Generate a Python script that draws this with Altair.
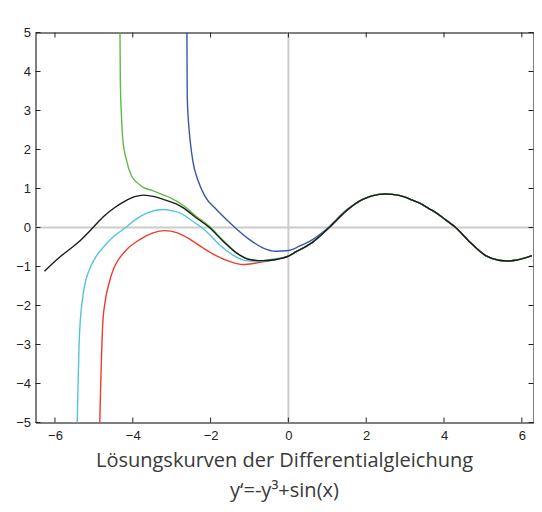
import altair as alt
import pandas as pd

# Shared tail: all solution curves merge into this one for x > ~0
tail_x = [0.20, 0.62, 1.05, 1.48, 1.91, 2.33, 2.50, 2.67, 3.00, 3.19, 3.36, 3.62, 3.79, 4.05, 4.30, 4.64, 5.07, 5.41, 5.62, 5.84, 6.26]
tail_y = [-0.62, -0.38, 0.00, 0.42, 0.72, 0.85, 0.86, 0.85, 0.78, 0.70, 0.63, 0.48, 0.38, 0.19, 0.00, -0.35, -0.72, -0.84, -0.86, -0.84, -0.72]

black_x = [-6.27, -5.83, -5.40, -5.02, -4.75, -4.48, -4.21, -3.95, -3.72, -3.44, -3.18, -2.90, -2.71, -2.37, -2.03, -1.68, -1.34, -1.00, -0.66, -0.32, 0.03]
black_y = [-1.12, -0.72, -0.38, 0.00, 0.28, 0.50, 0.67, 0.79, 0.83, 0.79, 0.71, 0.61, 0.51, 0.25, 0.00, -0.35, -0.65, -0.82, -0.85, -0.82, -0.72]

cyan_x = [-5.43, -5.41, -5.38, -5.35, -5.30, -5.24, -5.16, -5.08, -4.93, -4.75, -4.48, -4.18, -3.95, -3.61, -3.22, -3.00, -2.80, -2.46, -2.12, -1.77, -1.43, -1.09, -0.80, -0.40, 0.03]
cyan_y = [-5.10, -4.20, -3.00, -2.40, -1.90, -1.50, -1.20, -1.00, -0.72, -0.50, -0.22, 0.00, 0.19, 0.38, 0.46, 0.43, 0.38, 0.16, -0.09, -0.44, -0.70, -0.85, -0.87, -0.81, -0.72]

red_x = [-4.85, -4.83, -4.80, -4.77, -4.71, -4.61, -4.50, -4.42, -4.16, -3.82, -3.48, -3.18, -2.85, -2.52, -2.20, -1.86, -1.51, -1.17, -0.83, -0.49, -0.15, 0.03]
red_y = [-5.10, -4.26, -3.20, -2.45, -1.90, -1.43, -1.08, -0.91, -0.57, -0.31, -0.14, -0.08, -0.14, -0.31, -0.52, -0.72, -0.87, -0.95, -0.91, -0.85, -0.78, -0.72]

green_x = [-4.33, -4.32, -4.29, -4.26, -4.16, -4.03, -3.91, -3.73, -3.50, -3.25, -3.03, -2.71, -2.37, -2.03, -1.68, -1.34, -1.00, -0.66, -0.32, 0.03]
green_y = [5.20, 3.77, 2.85, 2.30, 1.72, 1.32, 1.17, 1.03, 0.95, 0.85, 0.76, 0.57, 0.29, 0.03, -0.33, -0.64, -0.82, -0.85, -0.82, -0.72]

blue_x = [-2.61, -2.60, -2.56, -2.52, -2.45, -2.32, -2.15, -1.85, -1.60, -1.34, -1.00, -0.66, -0.32, 0.00, 0.28, 0.62, 1.05, 1.48]
blue_y = [5.20, 3.38, 2.61, 2.18, 1.67, 1.20, 0.81, 0.46, 0.21, -0.03, -0.31, -0.52, -0.61, -0.59, -0.48, -0.31, 0.02, 0.44]

x_ticks = [-6, -4, -2, 0, 2, 4, 6]
y_ticks = [-5, -4, -3, -2, -1, 0, 1, 2, 3, 4, 5]

title_lines = ["Lösungskurven der Differentialgleichung", "y‘=-y³+sin(x)"]

W, H = 498, 390
xs = alt.Scale(domain=[-6.5, 6.3], nice=False, zero=False)
ys = alt.Scale(domain=[-5, 5], nice=False, zero=False)


def series(xv, yv, with_tail_from):
    xx = list(xv) + [t for t in tail_x if t > with_tail_from]
    yy = list(yv) + [tail_y[i] for i, t in enumerate(tail_x) if t > with_tail_from]
    return pd.DataFrame({"x": xx, "y": yy})


x_axis = alt.Axis(values=x_ticks, grid=False, ticks=False, domain=False, labelFontSize=13,
                  labelFont="Liberation Sans", labelColor="#222", labelPadding=7, title=None)
y_axis = alt.Axis(values=y_ticks, grid=False, ticks=False, domain=False, labelFontSize=13,
                  labelFont="Liberation Sans", labelColor="#222", labelPadding=5, title=None)

zero_df = pd.DataFrame({"v": [0]})
zero_v = alt.Chart(zero_df).mark_rule(color="#cccccc", strokeWidth=2).encode(
    x=alt.X("v:Q", scale=xs, axis=x_axis))
zero_h = alt.Chart(zero_df).mark_rule(color="#cccccc", strokeWidth=2).encode(
    y=alt.Y("v:Q", scale=ys, axis=y_axis))


def curve(df, color):
    return alt.Chart(df).mark_line(clip=True, color=color, strokeWidth=1.4,
                                   interpolate="monotone").encode(
        x=alt.X("x:Q", scale=xs, axis=x_axis),
        y=alt.Y("y:Q", scale=ys, axis=y_axis),
    )


layers = [
    zero_v, zero_h,
    curve(series(blue_x, blue_y, 1.5), "#3a56a8"),
    curve(series(red_x, red_y, 0.05), "#ee3b2b"),
    curve(series(cyan_x, cyan_y, 0.05), "#52c5dd"),
    curve(series(green_x, green_y, 0.05), "#5dbb46"),
    curve(series(black_x, black_y, 0.05), "#1b1b1b"),
]

xt_df = pd.DataFrame({"t": x_ticks})
yt_df = pd.DataFrame({"t": y_ticks})
tick_len = 5
tick_color = "#222"
layers += [
    alt.Chart(xt_df).mark_rule(color=tick_color, strokeWidth=1).encode(
        x=alt.X("t:Q", scale=xs, axis=x_axis), y=alt.value(H), y2=alt.value(H - tick_len)),
    alt.Chart(xt_df).mark_rule(color=tick_color, strokeWidth=1).encode(
        x=alt.X("t:Q", scale=xs, axis=x_axis), y=alt.value(0), y2=alt.value(tick_len)),
    alt.Chart(yt_df).mark_rule(color=tick_color, strokeWidth=1).encode(
        y=alt.Y("t:Q", scale=ys, axis=y_axis), x=alt.value(0), x2=alt.value(tick_len)),
    alt.Chart(yt_df).mark_rule(color=tick_color, strokeWidth=1).encode(
        y=alt.Y("t:Q", scale=ys, axis=y_axis), x=alt.value(W), x2=alt.value(W - tick_len)),
]

chart = alt.layer(*layers).properties(
    width=W, height=H,
    autosize=alt.AutoSizeParams(type="none"),
    padding={"left": 27.5, "top": 24.5, "right": 0, "bottom": 80},
    title=alt.TitleParams(text=title_lines, orient="bottom", anchor="middle", fontSize=20,
                          font="Open Sans", fontWeight="normal", color="#3a3a3a",
                          lineHeight=30, offset=24, baseline="alphabetic"),
).configure_view(stroke="#000", strokeWidth=1)

chart.save("out.html", embed_options={"renderer": "svg", "actions": False})
